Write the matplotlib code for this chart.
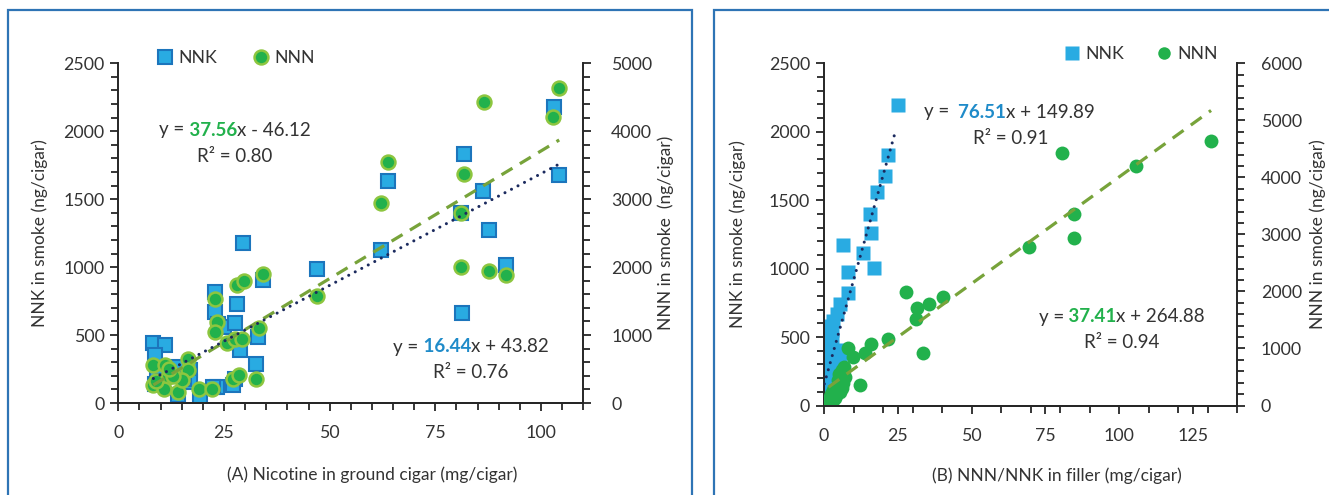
import matplotlib
matplotlib.use('Agg')
import matplotlib.pyplot as plt
import numpy as np
from matplotlib.lines import Line2D
from matplotlib.patches import Rectangle
from matplotlib.ticker import MultipleLocator

plt.rcParams['font.family'] = ['Lato', 'DejaVu Sans']

# (A) nicotine in ground cigar vs smoke
x_a_nnk = [8.3, 11.1, 8.6, 9.1, 13.8, 17.0, 14.2, 19.3, 23.3, 17.0, 10.5, 12.5, 15.5,
           8.7, 22.9, 22.9, 23.7, 25.0, 28.0, 27.6, 28.8, 33.1, 32.6, 34.3, 29.6, 27.6,
           27.2, 47.0, 62.1, 63.7, 81.7, 81.0, 86.3, 87.8, 91.7, 81.2, 103.0, 104.2, 22.3]
nnk_a = [442, 430, 352, 230, 267, 243, 60, 55, 120, 157, 160, 200, 180,
         140, 820, 670, 585, 560, 732, 588, 388, 486, 290, 905, 1181, 180,
         130, 985, 1127, 1636, 1830, 1400, 1562, 1272, 1012, 666, 2181, 1677, 115]
x_a_nnn = [8.3, 11.1, 16.4, 16.6, 11.8, 8.3, 10.7, 14.2, 15.0, 19.2, 22.1, 27.2, 28.6,
           32.6, 25.7, 27.6, 29.2, 33.3, 23.3, 22.9, 22.9, 28.0, 29.8, 34.3, 13.0, 9.0,
           12.0, 46.9, 62.1, 63.7, 81.8, 81.0, 81.0, 87.7, 91.7, 86.4, 102.8, 104.3]
nnn_a = [556, 556, 654, 482, 388, 260, 212, 166, 334, 212, 212, 360, 408,
         350, 884, 948, 948, 1110, 1194, 1046, 1538, 1734, 1798, 1896, 400, 320,
         500, 1572, 2937, 3551, 3365, 2800, 2004, 1945, 1891, 4435, 4204, 4641]

# (B) NNN/NNK in filler vs smoke
x_b_nnk = [25.0, 21.6, 20.7, 18.1, 15.6, 15.9, 6.5, 13.1, 8.0, 16.9, 8.2, 5.5, 4.5, 2.0,
           1.5, 2.6, 2.0, 4.3, 3.7, 5.4, 0.9, 3.7, 0.3, 0.9, 0.1, 0.4, 2.5, 1.5,
           0.5, 1.0, 1.2, 0.6, 0.2, 1.8, 2.8, 3.2, 0.4, 1.0]
nnk_b = [2192, 1833, 1679, 1557, 1398, 1263, 1173, 1117, 977, 1002, 820, 740, 670, 564,
         580, 551, 430, 405, 357, 332, 283, 259, 186, 126, 89, 40, 300, 200,
         480, 520, 380, 330, 230, 240, 470, 620, 140, 60]
x_b_nnn = [27.8, 40.2, 35.7, 31.6, 31.2, 21.8, 15.9, 8.2, 13.9, 9.9, 33.4, 12.2, 6.0, 4.9,
           6.5, 3.2, 2.0, 5.4, 4.3, 7.1, 1.5, 3.7, 6.8, 5.0, 69.4, 80.7, 84.7, 84.7, 105.7,
           131.2, 2.5, 4.0, 5.8, 3.0, 6.0, 2.8]
nnn_b = [1985, 1908, 1780, 1715, 1511, 1161, 1078, 1014, 915, 845, 915, 360, 622, 447,
         389, 272, 154, 242, 330, 505, 67, 126, 680, 560, 2785, 4425, 3354, 2929, 4200,
         4632, 200, 190, 380, 100, 300, 60]

# trend lines (slope, intercept) and R2
fit_a_nnk = (16.44, 43.82, '0.76')
fit_a_nnn = (37.56, -46.12, '0.80')
fit_b_nnk = (76.51, 149.89, '0.91')
fit_b_nnn = (37.41, 264.88, '0.94')

c_nnk = '#29ABE2'
c_nnk_edge = '#1C75BC'
c_nnn = '#22B14C'
c_nnn_edge = '#8DC63F'
c_dot = '#1B2A5E'
c_dash = '#77A33A'
c_txt = '#333333'
c_blue_txt = '#1F8BC9'

W, H = 1329, 495
fig = plt.figure(figsize=(W / 100, H / 100), dpi=100)


def px_axes(x0, y0, x1, y1):
    return fig.add_axes([x0 / W, 1 - y1 / H, (x1 - x0) / W, (y1 - y0) / H])


def style(ax, ax2, xmaj, xmin, ymin, y2min):
    for a in (ax, ax2):
        a.spines['top'].set_visible(False)
        for s in a.spines.values():
            s.set_color('#262626')
            s.set_linewidth(1.4)
        a.tick_params(which='both', direction='out', width=1.3, colors='#262626',
                      labelcolor=c_txt, labelsize=12.8)
        a.tick_params(which='major', length=6)
        a.tick_params(which='minor', length=5)
    ax.spines['right'].set_visible(False)
    ax2.spines['left'].set_visible(False)
    ax.tick_params(axis='x', pad=10)
    ax.tick_params(axis='y', pad=4)
    ax.xaxis.set_major_locator(MultipleLocator(xmaj))
    ax.xaxis.set_minor_locator(MultipleLocator(xmin))
    ax.yaxis.set_major_locator(MultipleLocator(500))
    ax.yaxis.set_minor_locator(MultipleLocator(ymin))
    ax2.yaxis.set_major_locator(MultipleLocator(1000))
    ax2.yaxis.set_minor_locator(MultipleLocator(y2min))


def rich_text(xc, y, parts, size=13.5):
    r = fig.canvas.get_renderer()
    texts = [fig.text(0, 1 - y / H, s, color=c, fontweight=w, fontsize=size,
                      va='center', ha='left') for s, c, w in parts]
    widths = [t.get_window_extent(r).width for t in texts]
    x = xc - sum(widths) / 2
    for t, w in zip(texts, widths):
        t.set_x(x / W)
        x += w


# ---------- panel A ----------
axA = px_axes(118.3, 63.3, 583.3, 403)
axA2 = axA.twinx()
axA.set_xlim(0, 110)
axA.set_ylim(0, 2500)
axA2.set_ylim(0, 5000)
style(axA, axA2, 25, 5, 100, 200)
axA2.tick_params(axis='y', pad=14)

axA.plot(x_a_nnk, nnk_a, 's', ms=9.5, mfc=c_nnk, mec=c_nnk_edge, mew=1.5, zorder=2)
axA2.plot(x_a_nnn, nnn_a, 'o', ms=10, mfc=c_nnn, mec=c_nnn_edge, mew=1.8, zorder=2)
xs = np.array([min(x_a_nnn), max(x_a_nnn)])
axA2.plot(xs, fit_a_nnn[0] * xs + fit_a_nnn[1], color=c_dash, lw=2.3,
          linestyle=(0, (4, 2.7)), zorder=3)
xs = np.array([min(x_a_nnk), max(x_a_nnk)])
# NNK trend drawn on the twin axis (scaled) so it stays on top of the circles
axA2.plot(xs, (fit_a_nnk[0] * xs + fit_a_nnk[1]) * 2, color=c_dot, lw=2.2,
          linestyle=(0, (0.01, 2.4)), dash_capstyle='round', zorder=4)

axA.set_xlabel('(A) Nicotine in ground cigar (mg/cigar)', fontsize=12.5, color=c_txt)
axA.set_ylabel('NNK in smoke (ng/cigar)', fontsize=12.5, color=c_txt)
axA2.set_ylabel('NNN in smoke  (ng/cigar)', fontsize=12.5, color=c_txt)
axA.xaxis.set_label_coords(0.546, -0.188)
axA.yaxis.set_label_coords(-0.151, 0.5)
axA2.yaxis.set_label_coords(1.16, 0.5)

# ---------- panel B ----------
axB = px_axes(824, 63.3, 1237, 405.5)
axB2 = axB.twinx()
axB.set_xlim(0, 140)
axB.set_ylim(0, 2500)
axB2.set_ylim(0, 6000)
style(axB, axB2, 25, 10, 100, 200)
axB2.tick_params(axis='y', pad=11)

axB.plot(x_b_nnk, nnk_b, 's', ms=10.5, mfc=c_nnk, mec='none', zorder=2)
axB2.plot(x_b_nnn, nnn_b, 'o', ms=10, mfc=c_nnn, mec='none', zorder=2)
xs = np.array([min(x_b_nnn), max(x_b_nnn)])
axB2.plot(xs, fit_b_nnn[0] * xs + fit_b_nnn[1], color=c_dash, lw=2.3,
          linestyle=(0, (4.2, 2.8)), zorder=3)
xs = np.array([min(x_b_nnk), 24.3])
axB2.plot(xs, (fit_b_nnk[0] * xs + fit_b_nnk[1]) * 6000 / 2500, color=c_dot, lw=2.2,
          linestyle=(0, (0.01, 2.4)), dash_capstyle='round', zorder=4)

axB.set_xlabel('(B) NNN/NNK in filler (mg/cigar)', fontsize=12.5, color=c_txt)
axB.set_ylabel('NNK in smoke (ng/cigar)', fontsize=12.5, color=c_txt)
axB2.set_ylabel('NNN in smoke (ng/cigar)', fontsize=12.5, color=c_txt)
axB.xaxis.set_label_coords(0.564, -0.18)
axB.yaxis.set_label_coords(-0.19, 0.5)
axB2.yaxis.set_label_coords(1.175, 0.5)

# ---------- legends ----------
hA = [Line2D([], [], ls='none', marker='s', ms=9.5, mfc=c_nnk, mec=c_nnk_edge, mew=1.5),
      Line2D([], [], ls='none', marker='o', ms=10, mfc=c_nnn, mec=c_nnn_edge, mew=1.8)]
fig.legend(hA, ['NNK', 'NNN'], loc='center', bbox_to_anchor=(236 / W, 1 - 58 / H),
           ncol=2, frameon=False, fontsize=12.8, handlelength=0.9, handletextpad=0.3,
           columnspacing=2.0, labelcolor=c_txt)
hB = [Line2D([], [], ls='none', marker='s', ms=10, mfc=c_nnk, mec='none'),
      Line2D([], [], ls='none', marker='o', ms=9, mfc=c_nnn, mec='none')]
fig.legend(hB, ['NNK', 'NNN'], loc='center', bbox_to_anchor=(1141 / W, 1 - 54 / H),
           ncol=2, frameon=False, fontsize=12.8, handlelength=0.9, handletextpad=0.3,
           columnspacing=1.8, labelcolor=c_txt)

# ---------- equations ----------
rich_text(235, 130, [('y =', c_txt, 'normal'), (' %.2f' % fit_a_nnn[0], c_nnn, 'bold'),
                     ('x - %.2f' % -fit_a_nnn[1], c_txt, 'normal')])
rich_text(235, 156, [('R² = ' + fit_a_nnn[2], c_txt, 'normal')])
rich_text(471, 347, [('y =', c_txt, 'normal'), (' %.2f' % fit_a_nnk[0], c_blue_txt, 'bold'),
                     ('x + %.2f' % fit_a_nnk[1], c_txt, 'normal')])
rich_text(471, 373, [('R² = ' + fit_a_nnk[2], c_txt, 'normal')])
rich_text(1009, 112, [('y =', c_txt, 'normal'), ('  %.2f' % fit_b_nnk[0], c_blue_txt, 'bold'),
                      ('x + %.2f' % fit_b_nnk[1], c_txt, 'normal')])
rich_text(1011, 138, [('R² = ' + fit_b_nnk[2], c_txt, 'normal')])
rich_text(1122, 317, [('y =', c_txt, 'normal'), (' %.2f' % fit_b_nnn[0], c_nnn, 'bold'),
                      ('x + %.2f' % fit_b_nnn[1], c_txt, 'normal')])
rich_text(1122, 343, [('R² = ' + fit_b_nnn[2], c_txt, 'normal')])

# ---------- panel frames ----------
box = '#2E74B5'
fig.add_artist(Rectangle((8 / W, -0.05), (692 - 8) / W, 1.05 - 10 / H,
                         transform=fig.transFigure, fill=False, ec=box, lw=1.6))
fig.add_artist(Rectangle((714 / W, -0.05), 0.5, 1.05 - 10 / H,
                         transform=fig.transFigure, fill=False, ec=box, lw=1.6))

fig.savefig('out.png', dpi=100)
